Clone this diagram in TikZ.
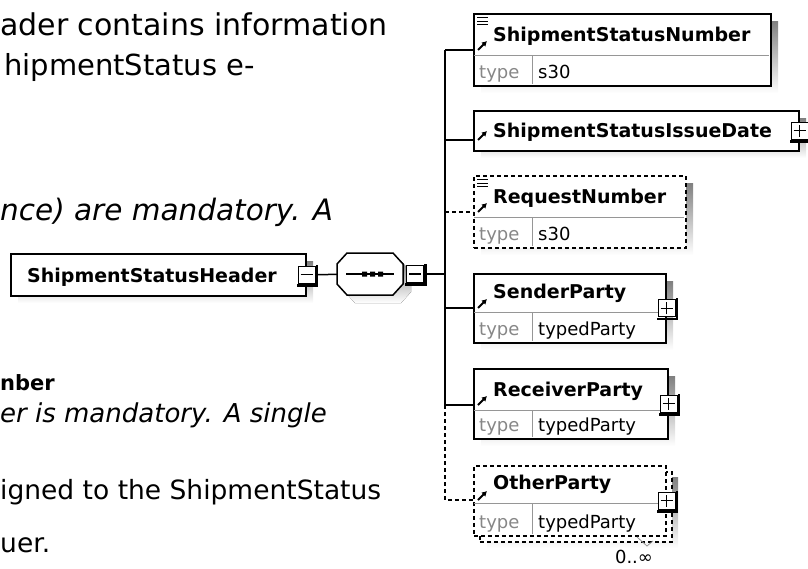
\documentclass[tikz,border=0pt]{standalone}
\usepackage{fontspec}
\setmainfont{DejaVu Sans}
\usepackage{tikz}
\tikzset{>=latex}
\usetikzlibrary{calc,arrows.meta,positioning}
\definecolor{shade}{RGB}{192,192,192}
\definecolor{typegray}{RGB}{135,135,135}
\definecolor{rulegray}{RGB}{150,150,150}
\tikzset{
  elbox/.style={draw=black, line width=1.5pt, fill=white, inner sep=0pt, anchor=north west},
  optional/.style={dash pattern=on 4pt off 3pt},
  link/.style={line width=1.5pt},
  divider/.style={draw=rulegray, line width=1pt},
  facet/.style={line width=1pt},
  elarrow/.style={line width=2pt, -{Latex[length=5pt,width=6pt]}},
  elname/.style={font=\fontsize{19}{22}\selectfont\bfseries, inner sep=0pt, anchor=base west},
  typetag/.style={font=\fontsize{18}{21}\selectfont, text=typegray, inner sep=0pt, anchor=base west},
  typeval/.style={font=\fontsize{18}{21}\selectfont, inner sep=0pt, anchor=base west},
  para/.style={inner sep=0pt, anchor=base west},
  togglebox/.style={draw, fill=white, line width=1pt, minimum size=17pt, inner sep=0pt},
  minusbox/.style={togglebox, path picture={\draw[line width=1.2pt] ([xshift=-6pt]path picture bounding box.center) -- ([xshift=6pt]path picture bounding box.center);}},
  plusbox/.style={togglebox, path picture={\draw[line width=1.2pt] ([xshift=-6pt]path picture bounding box.center) -- ([xshift=6pt]path picture bounding box.center) ([yshift=-6pt]path picture bounding box.center) -- ([yshift=6pt]path picture bounding box.center);}},
}

\begin{document}
\begin{tikzpicture}[x=1pt, y=-1pt]
    \useasboundingbox (0,0) rectangle (808,568);

    % text on the left
    \node[para, font=\fontsize{30}{36}\selectfont] (line1) at (0,35) {ader contains information};
    \node[para, font=\fontsize{29}{35}\selectfont] (line2) at (4,75) {hipmentStatus e-};
    \node[para, font=\fontsize{29.5}{35}\selectfont\itshape] (line3) at (0,220) {nce) are mandatory. A};
    \node[para, font=\fontsize{21}{25}\selectfont\bfseries] (line4) at (0,390) {nber};
    \node[para, font=\fontsize{26}{31}\selectfont\itshape] (line5) at (0,422) {er is mandatory. A single};
    \node[para, font=\fontsize{26.5}{31}\selectfont] (line6) at (0,499) {igned to the ShipmentStatus};
    \node[para, font=\fontsize{26.5}{31}\selectfont] (line7) at (0,552) {uer.};

    % shadows
    \fill[shade] (18,261) rectangle (313,303);
    \fill[shade] (345,272) -- (355,261) -- (401,261) -- (411,272) -- (411,292) -- (401,303) -- (355,303) -- (345,292) -- cycle;
    \fill[shade] (481,21) rectangle (778,93);
    \fill[shade] (481,118) rectangle (806,158);
    \fill[shade] (481,183) rectangle (693,255);
    \fill[shade] (481,281) rectangle (673,350);
    \fill[shade] (481,376) rectangle (675,446);
    \fill[shade] (487,477) rectangle (678,548);

    % boxes
    \node[elbox, minimum width=295, minimum height=42] (hdr) at (10,253) {};
    \node[inner sep=0pt, minimum width=66, minimum height=42] (seq) at (370,274) {};
    \draw[line width=1.5pt, fill=white] (337,264) -- (347,253) -- (393,253) -- (403,264) -- (403,284) -- (393,295) -- (347,295) -- (337,284) -- cycle;
    \node[elbox, minimum width=297, minimum height=72] (ssn) at (473,13) {};
    \node[elbox, minimum width=325, minimum height=40] (isd) at (473,110) {};
    \node[elbox, optional, minimum width=212, minimum height=72] (req) at (473,175) {};
    \node[elbox, minimum width=192, minimum height=69] (snd) at (473,273) {};
    \node[elbox, minimum width=194, minimum height=70] (rcv) at (473,368) {};
    \node[elbox, optional, minimum width=192, minimum height=70] (othback) at (479,471) {};
    \node[elbox, optional, minimum width=192, minimum height=70] (oth) at (473,465) {};

    % rows
    \draw[divider] (474,55) -- (769,55) (532,55) -- (532,84);
    \draw[divider] (474,217) -- (684,217) (532,217) -- (532,246);
    \draw[divider] (474,312) -- (664,312) (532,312) -- (532,341);
    \draw[divider] (474,410) -- (666,410) (532,410) -- (532,437);
    \draw[divider] (474,503) -- (664,503) (532,503) -- (532,534);

    % names
    \node[elname] (hdrlabel) at (27,282) {ShipmentStatusHeader};
    \node[elname] (ssnlabel) at (493,41) {ShipmentStatusNumber};
    \node[elname] (isdlabel) at (493,137) {ShipmentStatusIssueDate};
    \node[elname] (reqlabel) at (493,203) {RequestNumber};
    \node[elname] (sndlabel) at (493,298) {SenderParty};
    \node[elname] (rcvlabel) at (493,396) {ReceiverParty};
    \node[elname] (othlabel) at (493,489) {OtherParty};

    \node[typetag] (ssntag) at (479,78) {type};
    \node[typeval] (ssnval) at (538,78) {s30};
    \node[typetag] (reqtag) at (479,240) {type};
    \node[typeval] (reqval) at (538,240) {s30};
    \node[typetag] (sndtag) at (479,335) {type};
    \node[typeval] (sndval) at (538,335) {typedParty};
    \node[typetag] (rcvtag) at (479,431) {type};
    \node[typeval] (rcvval) at (538,431) {typedParty};
    \node[typetag] (othtag) at (479,528) {type};
    \node[typeval] (othval) at (538,528) {typedParty};

    \node[typeval, anchor=center, font=\fontsize{18}{20}\selectfont] (othmult) at (634,557) {0..∞};
    \draw[rulegray, line width=0.8pt] (637,537) -- (647,546) -- (653,541);

    % facet marks
    \draw[facet] (477,17.5) -- (488,17.5) (477,21) -- (488,21) (477,24.5) -- (488,24.5);
    \draw[facet] (477,179.5) -- (488,179.5) (477,183) -- (488,183) (477,186.5) -- (488,186.5);

    % inlets
    \coordinate (bus) at (445,274);
    \coordinate (ssnin) at ($(ssn.north west)+(0,37)$);
    \coordinate (isdin) at ($(isd.north west)+(0,30)$);
    \coordinate (reqin) at ($(req.north west)+(0,37)$);
    \coordinate (sndin) at ($(snd.north west)+(0,35)$);
    \coordinate (rcvin) at ($(rcv.north west)+(0,37)$);
    \coordinate (othin) at ($(oth.north west)+(0,35)$);

    \draw[elarrow] ($(ssnin)+(5,0)$) -- +(9,-9);
    \draw[elarrow] ($(isdin)+(5,0)$) -- +(9,-9);
    \draw[elarrow] ($(reqin)+(5,0)$) -- +(9,-9);
    \draw[elarrow] ($(sndin)+(5,0)$) -- +(9,-9);
    \draw[elarrow] ($(rcvin)+(5,0)$) -- +(9,-9);
    \draw[elarrow] ($(othin)+(5,0)$) -- +(9,-9);

    % sequence mark
    \draw[link] (346,274) -- (394,274);
    \fill (362,271.5) rectangle (367,276.5) (370,271.5) rectangle (375,276.5) (378,271.5) rectangle (383,276.5);

    % toggles
    \node[minusbox] (hdrminus) at (hdr.east) {};
    \node[minusbox] (seqminus) at (415,274) {};
    \node[plusbox] (isdplus) at (isd.east) {};
    \node[plusbox] (sndplus) at (snd.east) {};
    \node[plusbox] (rcvplus) at (rcv.east) {};
    \node[plusbox] (othplus) at (oth.east) {};
    \draw[line width=2.5pt] ([xshift=1.5pt,yshift=1pt]hdrminus.north east) -- ([xshift=1.5pt,yshift=-1.5pt]hdrminus.south east) -- ([xshift=-1pt,yshift=-1.5pt]hdrminus.south west);
    \draw[line width=2.5pt] ([xshift=1.5pt,yshift=1pt]seqminus.north east) -- ([xshift=1.5pt,yshift=-1.5pt]seqminus.south east) -- ([xshift=-1pt,yshift=-1.5pt]seqminus.south west);
    \draw[line width=2.5pt] ([xshift=1.5pt,yshift=1pt]isdplus.north east) -- ([xshift=1.5pt,yshift=-1.5pt]isdplus.south east) -- ([xshift=-1pt,yshift=-1.5pt]isdplus.south west);
    \draw[line width=2.5pt] ([xshift=1.5pt,yshift=1pt]sndplus.north east) -- ([xshift=1.5pt,yshift=-1.5pt]sndplus.south east) -- ([xshift=-1pt,yshift=-1.5pt]sndplus.south west);
    \draw[line width=2.5pt] ([xshift=1.5pt,yshift=1pt]rcvplus.north east) -- ([xshift=1.5pt,yshift=-1.5pt]rcvplus.south east) -- ([xshift=-1pt,yshift=-1.5pt]rcvplus.south west);
    \draw[line width=2.5pt] ([xshift=1.5pt,yshift=1pt]othplus.north east) -- ([xshift=1.5pt,yshift=-1.5pt]othplus.south east) -- ([xshift=-1pt,yshift=-1.5pt]othplus.south west);

    % connectors
    \draw[link] (hdrminus) -- (seq);
    \draw[link] (seqminus) -- (bus);
    \draw[link] (ssnin -| bus) -- (rcvin -| bus);
    \draw[link, optional] (rcvin -| bus) -- (othin -| bus) -- (othin);
    \draw[link] (ssnin -| bus) -- (ssnin);
    \draw[link] (isdin -| bus) -- (isdin);
    \draw[link, optional] (reqin -| bus) -- (reqin);
    \draw[link] (sndin -| bus) -- (sndin);
    \draw[link] (rcvin -| bus) -- (rcvin);

\end{tikzpicture}
\end{document}
